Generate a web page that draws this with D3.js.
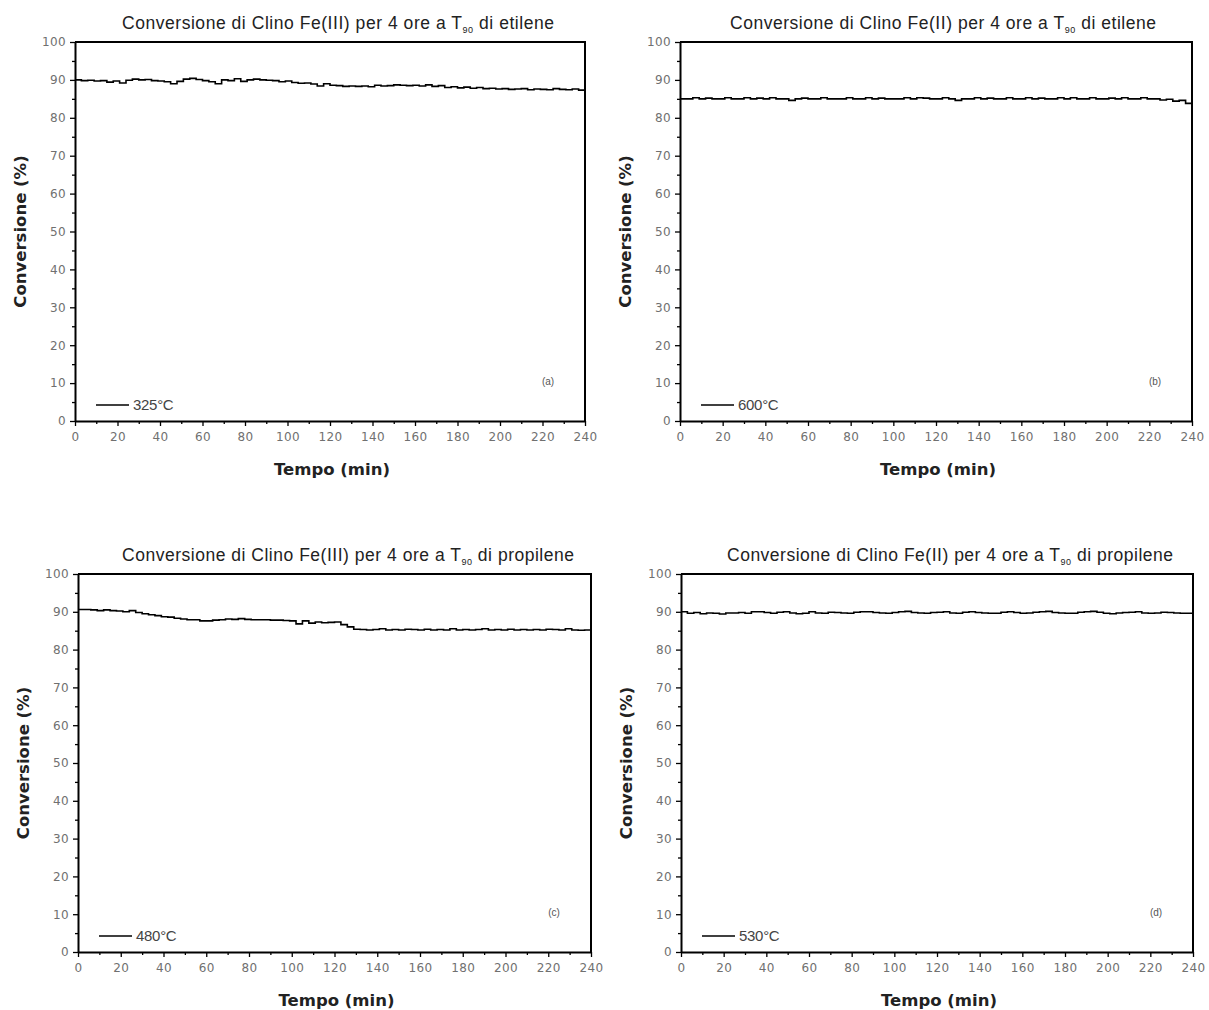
<!DOCTYPE html>
<html>
<head>
<meta charset="utf-8">
<script src="https://cdn.jsdelivr.net/npm/d3@7"></script>
<style>
body{margin:0;background:#fff}
.tick text{fill:#707070;font-family:"DejaVu Sans",sans-serif;font-size:12px;letter-spacing:0.4px}
</style>
</head>
<body>
<svg width="1209" height="1010"></svg>
<script>

// time axis, minutes (readings every 3 min)
var tempo=[0,3,6,9,12,15,18,21,24,27,30,33,36,39,42,45,48,51,54,57,60,63,66,69,72,75,78,81,84,87,
  90,93,96,99,102,105,108,111,114,117,120,123,126,129,132,135,138,141,144,147,150,153,156,159,162,165,168,171,174,177,
  180,183,186,189,192,195,198,201,204,207,210,213,216,219,222,225,228,231,234,237,240];

// (a) Fe(III) etilene 325°C
var convA=[90.0,89.8,89.9,89.7,89.8,89.4,89.7,89.2,89.9,90.2,90.0,90.1,89.8,89.7,89.5,89.0,89.6,90.2,90.4,90.1,
  89.8,89.5,89.0,90.0,89.8,90.3,89.6,90.0,90.2,90.0,89.9,89.8,89.5,89.7,89.3,89.1,89.2,88.9,88.4,89.0,
  88.6,88.5,88.3,88.4,88.3,88.4,88.2,88.6,88.4,88.5,88.7,88.6,88.5,88.6,88.4,88.7,88.3,88.5,88.0,88.2,
  87.9,88.1,87.8,88.0,87.7,87.8,87.6,87.7,87.5,87.6,87.7,87.4,87.6,87.5,87.4,87.7,87.5,87.4,87.6,87.3,87.6];

// (b) Fe(II) etilene 600°C
var convB=[85.0,85.0,85.3,85.0,85.2,85.0,85.0,85.3,85.0,85.0,85.3,85.0,85.2,85.0,85.3,85.0,85.0,84.6,85.0,85.2,
  85.0,85.0,85.3,85.0,85.0,85.0,85.3,85.0,85.0,85.3,85.0,85.2,85.0,85.0,85.0,85.3,85.0,85.3,85.2,85.0,
  85.0,85.3,85.0,84.6,85.0,85.0,85.3,85.0,85.2,85.0,85.0,85.3,85.0,85.0,85.3,85.0,85.2,85.0,85.0,85.3,
  85.0,85.3,85.0,85.0,85.3,85.0,85.0,85.2,85.0,85.3,85.0,85.0,85.3,85.0,85.0,84.7,84.9,84.4,84.6,83.8,83.5];

// (c) Fe(III) propilene 480°C
var convC=[90.6,90.6,90.5,90.3,90.5,90.3,90.2,90.0,90.3,89.8,89.5,89.2,89.0,88.7,88.6,88.3,88.1,87.9,87.9,87.6,
  87.6,87.8,87.9,88.1,88.0,88.2,88.0,87.9,87.9,87.9,87.8,87.8,87.7,87.6,86.8,87.6,87.0,87.3,87.1,87.2,
  87.3,86.6,86.0,85.4,85.3,85.2,85.3,85.5,85.2,85.3,85.2,85.4,85.3,85.2,85.4,85.2,85.3,85.2,85.5,85.2,
  85.3,85.2,85.3,85.5,85.2,85.3,85.2,85.4,85.2,85.3,85.2,85.3,85.2,85.4,85.3,85.2,85.5,85.2,85.1,85.2,85.1];

// (d) Fe(II) propilene 530°C
var convD=[90.0,89.6,89.8,89.5,89.7,89.6,89.4,89.7,89.7,89.8,89.6,90.0,90.0,89.8,89.6,89.9,90.0,89.7,89.5,89.6,
  90.0,89.7,89.6,89.9,89.8,89.7,89.6,89.9,90.0,90.0,89.8,89.7,89.6,89.8,90.0,90.1,89.8,89.7,89.6,89.8,
  89.9,90.0,89.7,89.6,89.9,90.0,89.8,89.7,89.6,89.6,89.9,90.0,89.8,89.6,89.7,89.9,90.0,90.1,89.8,89.7,
  89.6,89.6,89.9,90.0,90.1,89.9,89.6,89.5,89.7,89.8,89.9,90.0,89.7,89.6,89.7,89.9,89.8,89.7,89.6,89.6,89.7];

var titoli=[
  ["Conversione di Clino Fe(III) per 4 ore a T","90"," di etilene"],
  ["Conversione di Clino Fe(II) per 4 ore a T","90"," di etilene"],
  ["Conversione di Clino Fe(III) per 4 ore a T","90"," di propilene"],
  ["Conversione di Clino Fe(II) per 4 ore a T","90"," di propilene"]
];
var legende=["325°C","600°C","480°C","530°C"];
var etichette=["(a)","(b)","(c)","(d)"];
var serie=[convA,convB,convC,convD];

var xTicks=[0,20,40,60,80,100,120,140,160,180,200,220,240];
var yTicks=[0,10,20,30,40,50,60,70,80,90,100];

// plot boxes in page pixels, plus title width
var boxes=[
  {l:75,r:585,t:42,b:421,tw:432,tx:338},
  {l:680,r:1192,t:42,b:421,tw:426,tx:943},
  {l:78,r:591,t:574,b:952,tw:452,tx:348},
  {l:681,r:1193,t:574,b:952,tw:446,tx:950}
];

var svg=d3.select("svg");

boxes.forEach(function(bx,i){
  var g=svg.append("g");
  var x=d3.scaleLinear().domain([0,240]).range([bx.l,bx.r]);
  var y=d3.scaleLinear().domain([0,100]).range([bx.b,bx.t]);

  // minor ticks
  g.append("g").attr("transform","translate(0,"+bx.b+")")
    .call(d3.axisBottom(x).tickValues(d3.range(10,240,20)).tickSize(3).tickFormat(""))
    .call(function(s){s.select(".domain").remove();});
  g.append("g").attr("transform","translate("+bx.l+",0)")
    .call(d3.axisLeft(y).tickValues(d3.range(5,100,10)).tickSize(3).tickFormat(""))
    .call(function(s){s.select(".domain").remove();});

  var xa=g.append("g").attr("transform","translate(0,"+bx.b+")")
    .call(d3.axisBottom(x).tickValues(xTicks).tickSize(5).tickSizeOuter(0).tickPadding(6));
  var ya=g.append("g").attr("transform","translate("+bx.l+",0)")
    .call(d3.axisLeft(y).tickValues(yTicks).tickSize(5).tickSizeOuter(0).tickPadding(4));
  g.selectAll(".tick line").attr("stroke","#000").attr("stroke-width",1.3);
  xa.select(".domain").attr("stroke-width",2);
  ya.select(".domain").attr("stroke-width",2);

  // frame top and right
  g.append("path")
    .attr("d","M"+bx.l+","+bx.t+"H"+bx.r+"V"+bx.b)
    .attr("fill","none").attr("stroke","#000").attr("stroke-width",2);

  // data line
  var line=d3.line()
    .curve(d3.curveStepAfter)
    .x(function(d,j){return x(tempo[j]);})
    .y(function(d){return y(d);});
  g.append("path").datum(serie[i])
    .attr("d",line)
    .attr("fill","none").attr("stroke","#000").attr("stroke-width",1.6);

  // title
  var tt=g.append("text")
    .attr("x",bx.tx).attr("y",bx.t-13)
    .attr("text-anchor","middle")
    .attr("textLength",bx.tw).attr("lengthAdjust","spacing")
    .style("font-family","'Liberation Sans',Arial,sans-serif")
    .style("font-size","17.5px")
    .attr("fill","#222");
  tt.append("tspan").text(titoli[i][0]);
  tt.append("tspan").attr("dy",4).style("font-size","9px").text(titoli[i][1]);
  tt.append("tspan").attr("dy",-4).text(titoli[i][2]);

  // axis titles
  g.append("text")
    .attr("x",(bx.l+bx.r)/2+2).attr("y",bx.b+54)
    .attr("text-anchor","middle")
    .style("font-family","'DejaVu Sans',sans-serif").style("font-weight","bold")
    .style("font-size","16.5px").attr("fill","#222")
    .text("Tempo (min)");
  g.append("text")
    .attr("transform","translate("+(bx.l-49)+","+((bx.t+bx.b)/2)+") rotate(-90)")
    .attr("text-anchor","middle")
    .style("font-family","'DejaVu Sans',sans-serif").style("font-weight","bold")
    .style("font-size","16.5px").attr("fill","#222")
    .text("Conversione (%)");

  // legend
  g.append("line")
    .attr("x1",bx.l+21).attr("x2",bx.l+54)
    .attr("y1",bx.b-16).attr("y2",bx.b-16)
    .attr("stroke","#000").attr("stroke-width",1.6);
  g.append("text")
    .attr("x",bx.l+58).attr("y",bx.b-11)
    .style("font-family","'Liberation Sans',Arial,sans-serif")
    .style("font-size","15px").style("letter-spacing","-0.3px").attr("fill","#444")
    .text(legende[i]);

  g.append("text")
    .attr("x",bx.r-37).attr("y",bx.b-36)
    .attr("text-anchor","middle")
    .style("font-family","'Liberation Sans',Arial,sans-serif")
    .style("font-size","10px").attr("fill","#555")
    .text(etichette[i]);
});

</script>
</body>
</html>
